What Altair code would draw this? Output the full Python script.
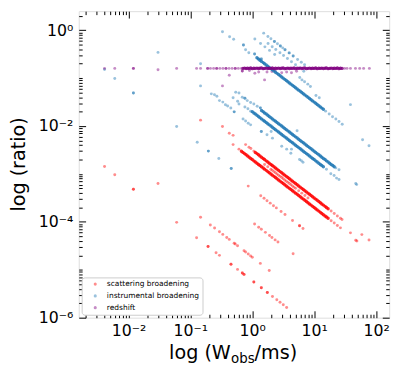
import altair as alt
import pandas as pd

SERIES = ["scattering broadening", "instrumental broadening", "redshift"]
COLORS = ["#ff0000", "#1f77b4", "#800080"]

# log-spaced widths (ms) at which the densely populated tracks were read
w_grid = [0.668, 0.708, 0.750, 0.794, 0.841, 0.891, 0.944, 1.00, 1.06, 1.12,
          1.19, 1.26, 1.33, 1.41, 1.50, 1.58, 1.68, 1.78, 1.88, 2.00,
          2.11, 2.24, 2.37, 2.51, 2.66, 2.82, 2.99, 3.16, 3.35, 3.55,
          3.76, 3.98, 4.22, 4.47, 4.73, 5.01, 5.31, 5.62, 5.96, 6.31,
          6.68, 7.08, 7.50, 7.94, 8.41, 8.91, 9.44, 10.0, 10.6, 11.2,
          11.9, 12.6, 13.3, 14.1, 15.0, 15.8, 16.8, 17.8, 18.8, 20.0,
          21.1, 22.4, 23.7, 25.1, 26.6, 28.2]

# ---------------- scattering broadening (red) ----------------
scat_upper_x = w_grid[9:57]
scat_upper_y = [0.00282, 0.00266, 0.00251, 0.00237, 0.00224, 0.00211, 0.00200,
                0.00188, 0.00178, 0.00168, 0.00158, 0.00150,
                0.00141, 0.00133, 0.00126, 0.00119, 0.00112, 0.00106,
                0.00100, 0.000944, 0.000891, 0.000841, 0.000794, 0.000750, 0.000708,
                0.000668, 0.000631, 0.000596, 0.000562,
                0.000531, 0.000501, 0.000473, 0.000447, 0.000422, 0.000398, 0.000376,
                0.000355, 0.000335, 0.000316,
                0.000299, 0.000282, 0.000266, 0.000251, 0.000237, 0.000224, 0.000211,
                0.000200, 0.000188]
scat_lower_x = w_grid[0:57]
scat_lower_y = [0.00299, 0.00282, 0.00266, 0.00251, 0.00237, 0.00224, 0.00211,
                0.00200, 0.00188, 0.00178, 0.00168, 0.00158, 0.00150,
                0.00141, 0.00133, 0.00126, 0.00119, 0.00112, 0.00106,
                0.00100, 0.000944, 0.000891, 0.000841, 0.000794, 0.000750, 0.000708,
                0.000668, 0.000631, 0.000596, 0.000562,
                0.000531, 0.000501, 0.000473, 0.000447, 0.000422, 0.000398, 0.000376,
                0.000355, 0.000335, 0.000316,
                0.000299, 0.000282, 0.000266, 0.000251, 0.000237, 0.000224, 0.000211,
                0.000200,
                0.000188, 0.000178, 0.000168, 0.000158, 0.000150, 0.000141, 0.000133,
                0.000126, 0.000119]
scat_iso_x = [0.0041, 0.006, 0.012, 0.012, 0.030, 0.060, 0.146, 0.33, 0.425, 0.49, 0.49, 0.61]
scat_iso_y = [0.00143, 0.00096, 0.00048, 0.00048, 0.00063, 0.0000977, 0.0133, 0.0098,
              0.0071, 0.0064, 0.0041, 0.0033]
scat_ends_x = [0.78, 0.885, 0.95, 1.06, 18.8, 21.1, 23.7, 26.6, 28.2, 59.0, 77.0,
               18.8, 21.1, 23.7, 26.6, 38.6, 47.0, 49.0]
scat_ends_y = [0.0041, 0.0036, 0.0034, 0.0030, 0.000168, 0.000150, 0.000133, 0.000119,
               0.000112, 0.0000542, 0.0000417,
               0.000106, 0.0000944, 0.0000841, 0.0000750, 0.000059, 0.0000415, 0.000040]
scat_mid_x = [1.58, 1.78, 2.00, 2.11, 2.24, 2.37, 2.51, 2.66, 2.82, 2.99,
              3.16, 3.35, 3.55, 3.76, 3.98, 4.22, 4.47, 4.73, 5.01,
              5.62, 6.31, 7.08, 7.94]
scat_mid_y = [0.00158, 0.00141, 0.00126, 0.00119, 0.00112, 0.00106, 0.00100, 0.000944,
              0.000891, 0.000841,
              0.000794, 0.000750, 0.000708, 0.000668, 0.000631, 0.000596, 0.000562,
              0.000531, 0.000501,
              0.000447, 0.000398, 0.000355, 0.000316]
scat_t3_x = [0.86, 1.37, 1.55, 1.73, 1.95, 2.2, 2.45, 2.92, 3.38, 4.47, 5.8, 5.8, 6.6]
scat_t3_y = [0.000558, 0.00035, 0.00031, 0.000277, 0.000246, 0.000218, 0.000196,
             0.000164, 0.000142, 0.000107, 0.0000828, 0.0000828, 0.0000727]
scat_t4_x = [0.146, 0.21, 0.246, 0.295, 0.334, 0.387, 0.425, 0.51, 0.53, 0.578,
             0.736, 0.78, 0.86, 0.94, 1.0, 1.35, 1.88]
scat_t4_y = [0.000125, 0.0000860, 0.0000744, 0.000062, 0.0000548, 0.0000473, 0.0000431,
             0.0000359, 0.0000345, 0.0000317, 0.0000249, 0.0000235, 0.0000213,
             0.0000195, 0.0000183, 0.0000136, 0.0000097]
scat_t5_x = [1.09, 1.27, 1.40, 1.63, 1.9, 2.08, 2.34, 2.6, 4.57]
scat_t5_y = [0.0000904, 0.0000776, 0.0000704, 0.0000604, 0.0000518, 0.0000474,
             0.0000421, 0.0000379, 0.0000216]
scat_t7_x = [0.126, 0.193, 0.193, 0.26, 0.295, 0.453, 0.453, 0.578, 0.69, 0.69,
             0.736, 0.736, 1.06, 1.06, 1.40, 1.40, 1.75, 1.75, 2.12, 2.49, 2.81, 3.17, 3.59]
scat_t7_y = [0.0000468, 0.0000306, 0.0000306, 0.0000227, 0.00002, 0.000013, 0.000013,
             0.0000102, 0.00000855, 0.00000855, 0.00000802, 0.00000802, 0.00000557,
             0.00000557, 0.00000421, 0.00000421, 0.00000337, 0.00000337, 0.00000278,
             0.00000237, 0.0000021, 0.00000186, 0.00000164]

# ---------------- instrumental broadening (blue) ----------------
inst_t1_x = w_grid[10:54]
inst_t1_y = [0.266, 0.251, 0.237, 0.224, 0.211, 0.200, 0.188, 0.178, 0.168, 0.158,
             0.150, 0.141, 0.133, 0.126, 0.119, 0.112, 0.106, 0.100,
             0.0944, 0.0891, 0.0841, 0.0794, 0.0750, 0.0708, 0.0668, 0.0631, 0.0596, 0.0562,
             0.0531, 0.0501, 0.0473, 0.0447, 0.0422, 0.0398, 0.0376, 0.0355, 0.0335, 0.0316,
             0.0299, 0.0282, 0.0266, 0.0251, 0.0237, 0.0224]
inst_t2_x = w_grid[13:61]
inst_t2_y = [0.0211, 0.0200, 0.0188, 0.0178, 0.0168, 0.0158, 0.0150, 0.0141, 0.0133,
             0.0126, 0.0119, 0.0112, 0.0106,
             0.0100, 0.00944, 0.00891, 0.00841, 0.00794, 0.00750, 0.00708, 0.00668,
             0.00631, 0.00596,
             0.00562, 0.00531, 0.00501, 0.00473, 0.00447, 0.00422, 0.00398, 0.00376,
             0.00355, 0.00335,
             0.00316, 0.00299, 0.00282, 0.00266, 0.00251, 0.00237, 0.00224, 0.00211, 0.00200,
             0.00188, 0.00178, 0.00168, 0.00158, 0.00150, 0.00141]
inst_t3_x = w_grid[7:54]
inst_t3_y = [0.0200, 0.0188, 0.0178, 0.0168, 0.0158, 0.0150, 0.0141, 0.0133, 0.0126,
             0.0119, 0.0112, 0.0106,
             0.0100, 0.00944, 0.00891, 0.00841, 0.00794, 0.00750, 0.00708, 0.00668, 0.00631,
             0.00596, 0.00562, 0.00531, 0.00501, 0.00473, 0.00447, 0.00422, 0.00398,
             0.00376, 0.00355,
             0.00335, 0.00316, 0.00299, 0.00282, 0.00266, 0.00251, 0.00237, 0.00224,
             0.00211, 0.00200,
             0.00188, 0.00178, 0.00168, 0.00158, 0.00150, 0.00141]
inst_iso_x = [0.0041, 0.006, 0.012, 0.012, 0.030, 0.060, 0.129, 0.195, 0.195, 0.288,
              0.457, 0.457, 0.146, 0.146, 5.3, 25.2, 38.6, 47.0, 48.6, 60.6, 77.0]
inst_iso_y = [0.152, 0.098, 0.049, 0.049, 0.345, 0.0098, 0.0046, 0.003, 0.003, 0.0021,
              0.0013, 0.0013, 0.20, 0.069, 0.008, 0.00077, 0.028, 0.00063, 0.0006,
              0.0052, 0.0039]
inst_t1_ends_x = [0.33, 0.43, 0.50, 0.72, 0.72, 0.78, 0.88, 1.09, 1.09, 1.4, 1.4,
                  15.3, 17.5, 19.8, 22.4, 25.2, 28.4]
inst_t1_ends_y = [0.93, 0.73, 0.65, 0.49, 0.49, 0.39, 0.34, 0.32, 0.32, 0.25, 0.25,
                  0.0205, 0.0178, 0.0157, 0.014, 0.0124, 0.0109]
inst_a_x = [1.53, 1.79, 2.0, 2.28, 2.28, 2.55, 2.84, 2.84, 3.1, 3.38, 3.38, 3.95, 3.95,
            4.58, 4.58, 5.4, 6.2, 7.0]
inst_a_y = [0.87, 0.743, 0.665, 0.583, 0.583, 0.522, 0.468, 0.468, 0.429, 0.393, 0.393,
            0.337, 0.337, 0.29, 0.29, 0.246, 0.215, 0.19]
inst_a2_x = [1.8, 2.1, 2.4, 2.8, 3.2, 3.7, 4.3, 5.0, 5.8, 6.8]
inst_a2_y = [0.528, 0.452, 0.396, 0.339, 0.297, 0.257, 0.221, 0.19, 0.164, 0.14]
inst_c_x = [1.1, 1.36, 1.6, 1.9, 2.3]
inst_c_y = [0.655, 0.53, 0.45, 0.38, 0.313]
inst_d_x = [5.85, 6.35, 7.0, 7.9, 8.7, 10.7, 12.1]
inst_d_y = [0.103, 0.092, 0.084, 0.075, 0.067, 0.0435, 0.039]
inst_t2_ends_x = [0.54, 0.61, 0.69, 0.76, 0.76, 0.83, 0.94, 1.06, 1.2, 1.35, 1.35, 22.4, 25.2]
inst_t2_ends_y = [0.051, 0.049, 0.04, 0.038, 0.038, 0.034, 0.031, 0.029, 0.026, 0.024,
                  0.024, 0.00134, 0.00122]
inst_t3_ends_x = [0.49, 0.58, 0.61, 0.76, 0.85, 0.94, 15.8, 18.6, 21.0, 23.0]
inst_t3_ends_y = [0.039, 0.033, 0.029, 0.025, 0.023, 0.0205, 0.00126, 0.00101, 0.00093, 0.00082]
inst_t4_x = [0.218, 0.245, 0.268, 0.295, 0.334, 0.368, 0.40, 0.45, 0.51, 0.51,
             0.71, 0.78, 0.86, 0.94, 1.4, 1.4, 1.73, 2.02, 2.12, 2.99,
             3.6, 4.2, 4.3, 5.8, 6.2, 6.6]
inst_t4_y = [0.047, 0.045, 0.042, 0.034, 0.0316, 0.0279, 0.0263, 0.0239, 0.0198, 0.0198,
             0.0141, 0.0128, 0.0114, 0.0106, 0.0077, 0.0077, 0.0066, 0.0077, 0.0056, 0.0038,
             0.0033, 0.0027, 0.0033, 0.002, 0.0019, 0.00175]

# ---------------- redshift (purple) ----------------
red_line_x = w_grid[1:66]
red_line_y = [0.160, 0.162, 0.159, 0.161, 0.160, 0.163, 0.158, 0.161, 0.160, 0.162,
              0.159, 0.161, 0.163, 0.158, 0.160, 0.162, 0.159, 0.161, 0.160, 0.163,
              0.158, 0.161, 0.160, 0.162, 0.159, 0.161, 0.163, 0.158, 0.160, 0.162,
              0.159, 0.161, 0.160, 0.163, 0.158, 0.161, 0.160, 0.162, 0.159, 0.161,
              0.163, 0.158, 0.160, 0.162, 0.159, 0.161, 0.160, 0.163, 0.158, 0.161,
              0.160, 0.162, 0.159, 0.161, 0.163, 0.158, 0.160, 0.162, 0.159, 0.161,
              0.160, 0.163, 0.158, 0.161, 0.160]
red_iso_x = [0.0041, 0.006, 0.012, 0.012, 0.030, 0.060, 0.126, 0.146, 0.19, 0.19,
             0.211, 0.237, 0.266, 0.266, 0.299, 0.335, 0.376, 0.376, 0.422, 0.473,
             0.531, 0.531, 0.596, 0.668, 31.0, 34.0, 38.6, 46.5, 54.4, 63.0, 78.0]
red_iso_y = [0.16, 0.16, 0.16, 0.16, 0.15, 0.16, 0.16, 0.16, 0.16, 0.16,
             0.16, 0.16, 0.16, 0.16, 0.16, 0.16, 0.16, 0.16, 0.16, 0.16,
             0.16, 0.16, 0.16, 0.16, 0.16, 0.16, 0.16, 0.16, 0.16, 0.16, 0.16]
red_low_x = [0.33, 0.425, 0.69, 0.69, 0.9, 1.1, 1.27, 1.58, 1.73, 2.08, 2.34, 2.99, 3.59, 4.3, 5.2]
red_low_y = [0.069, 0.115, 0.141, 0.141, 0.145, 0.126, 0.134, 0.092, 0.134, 0.137,
             0.145, 0.13, 0.134, 0.13, 0.14]

# axis ticks and labels
x_major = [0.01, 0.1, 1, 10, 100]
x_minor = [0.002, 0.003, 0.004, 0.005, 0.006, 0.007, 0.008, 0.009,
           0.02, 0.03, 0.04, 0.05, 0.06, 0.07, 0.08, 0.09,
           0.2, 0.3, 0.4, 0.5, 0.6, 0.7, 0.8, 0.9,
           2, 3, 4, 5, 6, 7, 8, 9,
           20, 30, 40, 50, 60, 70, 80, 90]
y_major = [1e-6, 1e-4, 1e-2, 1]
y_minor = []
for dec in [1e-6, 1e-5, 1e-4, 1e-3, 1e-2, 1e-1, 1]:
    for m in [2, 3, 4, 5, 6, 7, 8, 9]:
        if dec * m < 2.5:
            y_minor.append(dec * m)
y_minor += [1e-5, 1e-3, 1e-1]
SUP = "['⁻⁶','⁻⁵','⁻⁴','⁻³','⁻²','⁻¹','⁰','¹','²'][round(log(datum.value)/LN10)+6]"
x_title_parts = ["log (W", "obs", "/ms)"]
y_title = "log (ratio)"

rows = []


def add(series, xs, ys, kind):
    assert len(xs) == len(ys), (series, len(xs), len(ys))
    for a, b in zip(xs, ys):
        rows.append({"w": a, "ratio": b, "series": series, "kind": kind})


# light (individual) points, drawn in series order
add(SERIES[0], scat_iso_x, scat_iso_y, "light")
add(SERIES[0], scat_ends_x, scat_ends_y, "light")
add(SERIES[0], scat_mid_x, scat_mid_y, "light")
add(SERIES[0], scat_t3_x, scat_t3_y, "light")
add(SERIES[0], scat_t4_x, scat_t4_y, "light")
add(SERIES[0], scat_t5_x, scat_t5_y, "light")
add(SERIES[0], scat_t7_x, scat_t7_y, "light")
add(SERIES[1], inst_iso_x, inst_iso_y, "light")
add(SERIES[1], inst_t1_ends_x, inst_t1_ends_y, "light")
add(SERIES[1], inst_a_x, inst_a_y, "light")
add(SERIES[1], inst_a2_x, inst_a2_y, "light")
add(SERIES[1], inst_c_x, inst_c_y, "light")
add(SERIES[1], inst_d_x, inst_d_y, "light")
add(SERIES[1], inst_t2_ends_x, inst_t2_ends_y, "light")
add(SERIES[1], inst_t3_ends_x, inst_t3_ends_y, "light")
add(SERIES[1], inst_t4_x, inst_t4_y, "light")
add(SERIES[2], red_iso_x, red_iso_y, "light")
add(SERIES[2], red_low_x, red_low_y, "light")
# dense tracks
add(SERIES[0], scat_upper_x, scat_upper_y, "dense")
add(SERIES[0], scat_lower_x, scat_lower_y, "dense")
add(SERIES[1], inst_t1_x, inst_t1_y, "dense")
add(SERIES[1], inst_t2_x, inst_t2_y, "dense")
add(SERIES[1], inst_t3_x, inst_t3_y, "dense")
add(SERIES[2], red_line_x, red_line_y, "dense")

df = pd.DataFrame(rows)
df["order"] = range(len(df))

W, H = 316, 312
xscale = alt.Scale(type="log", domain=[0.00157, 163], nice=False, zero=False)
yscale = alt.Scale(type="log", domain=[1e-6, 2.5], nice=False, zero=False)
cscale = alt.Scale(domain=SERIES, range=COLORS)
FONT = "DejaVu Sans"

light = alt.Chart(df).transform_filter("datum.kind == 'light'").mark_circle(
    size=9, opacity=0.45
).encode(
    x=alt.X("w:Q", scale=xscale, axis=alt.Axis(
        orient="bottom", values=x_major, ticks=False, tickSize=0, domain=False,
        grid=False, labelExpr="'10' + " + SUP, labelFontSize=16, labelFont=FONT,
        labelColor="black", labelPadding=5, title=None, labelFlush=False)),
    y=alt.Y("ratio:Q", scale=yscale, axis=alt.Axis(
        orient="left", values=y_major, ticks=False, tickSize=0, domain=False,
        grid=False, labelExpr="'10' + " + SUP, labelFontSize=16, labelFont=FONT,
        labelColor="black", labelPadding=6, title=None, labelFlush=False)),
    color=alt.Color("series:N", scale=cscale, legend=alt.Legend(
        orient="bottom-left", offset=3, title=None, labelFontSize=7.6, labelFont=FONT,
        labelColor="black", symbolSize=10, symbolOpacity=0.45, symbolStrokeWidth=0,
        symbolType="circle", strokeColor="#cccccc", fillColor="white", cornerRadius=3,
        padding=3, rowPadding=3, labelOffset=8, symbolOffset=7, labelLimit=300)),
    order=alt.Order("order:Q"),
)

dense = alt.Chart(df).transform_filter("datum.kind == 'dense'").mark_circle(
    size=12, opacity=0.85
).encode(
    x=alt.X("w:Q", scale=xscale, axis=None),
    y=alt.Y("ratio:Q", scale=yscale, axis=None),
    color=alt.Color("series:N", scale=cscale, legend=None),
    order=alt.Order("order:Q"),
)

axis_df = pd.DataFrame({"w": [1.0], "ratio": [0.01]})


def tick_layer(xorient, yorient, xvals, yvals, size):
    common = dict(labels=False, ticks=True, tickSize=size, tickColor="black",
                  tickWidth=1, domain=False, grid=False, title=None)
    return alt.Chart(axis_df).mark_circle(opacity=0).encode(
        x=alt.X("w:Q", scale=xscale,
                axis=alt.Axis(orient=xorient, offset=-H, values=xvals, **common)),
        y=alt.Y("ratio:Q", scale=yscale,
                axis=alt.Axis(orient=yorient, offset=-W, values=yvals, **common)),
    )


ticks = [
    tick_layer("top", "right", x_major, y_major, 7),     # bottom & left edges, inward
    tick_layer("top", "right", x_minor, y_minor, 3.5),
    tick_layer("bottom", "left", x_major, y_major, 7),   # top & right edges, inward
    tick_layer("bottom", "left", x_minor, y_minor, 3.5),
]


def text_layer(txt, px, py, size, align="left", angle=0, baseline="alphabetic"):
    return alt.Chart(pd.DataFrame({"t": [txt]})).mark_text(
        align=align, baseline=baseline, fontSize=size, font=FONT, color="black", angle=angle
    ).encode(x=alt.value(px), y=alt.value(py), text="t:N")


titles = [
    text_layer(x_title_parts[0], 92, 354.5, 19.5),
    text_layer(x_title_parts[1], 155, 358.5, 13.6),
    text_layer(x_title_parts[2], 179, 354.5, 19.5),
    text_layer(y_title, -61, 156, 19.5, align="center", angle=270, baseline="middle"),
]

chart = alt.layer(light, dense, *ticks, *titles).resolve_axis(
    x="independent", y="independent"
).properties(
    width=W, height=H,
    autosize=alt.AutoSizeParams(type="none"),
    padding={"left": 72, "top": 0, "right": 10, "bottom": 50},
).configure_view(stroke="black", strokeWidth=1).configure(font=FONT)

chart.save("out.html", embed_options={"renderer": "svg", "actions": False})
